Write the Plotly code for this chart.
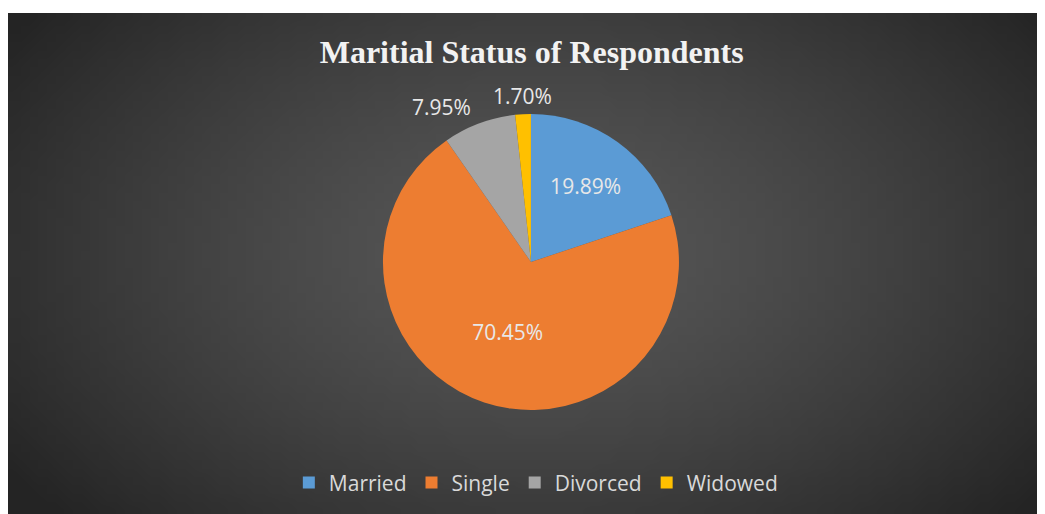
import base64
import math
import struct
import zlib

import plotly.graph_objects as go

# ---- data ----
categories = ["Married", "Single", "Divorced", "Widowed"]
respondents = [35, 124, 14, 3]          # 176 respondents in total
slice_colors = ["#5B9BD5", "#ED7D31", "#A5A5A5", "#FFC000"]
label_positions = ["inside", "inside", "none", "none"]
chart_title = "Maritial Status of Respondents"

# ---- geometry (figure is placed at an 8px page offset) ----
FIG_W, FIG_H = 1037, 506
M_L, M_R, M_T, M_B = 0, 0, 5, 0
PAPER_W = FIG_W - M_L - M_R
PAPER_H = FIG_H - M_T - M_B
CX, CY = 0.5043, 0.503          # pie centre, paper fractions
RADIUS_PX = 148


# ---- radial-gradient background, built as a tiny PNG ----
def gradient_png(w=120, h=60):
    rows = []
    for j in range(h):
        row = bytearray([0])
        for i in range(w):
            dx = (i + 0.5) / w - 0.51
            dy = (j + 0.5) / h - 0.48
            d = min(1.0, ((dx / 0.62) ** 2 + (dy / 0.78) ** 2) ** 0.5)
            v = int(round(0x57 - (0x57 - 0x24) * d ** 1.4))
            row += bytes([v, v, v])
        rows.append(bytes(row))
    raw = b"".join(rows)

    def chunk(tag, data):
        c = struct.pack(">I", len(data)) + tag + data
        return c + struct.pack(">I", zlib.crc32(tag + data) & 0xFFFFFFFF)

    png = b"\x89PNG\r\n\x1a\n"
    png += chunk(b"IHDR", struct.pack(">IIBBBBB", w, h, 8, 2, 0, 0, 0))
    png += chunk(b"IDAT", zlib.compress(raw, 9))
    png += chunk(b"IEND", b"")
    return "data:image/png;base64," + base64.b64encode(png).decode()


label_font = dict(family="Open Sans", size=21, color="#E8E8E8")
half_y = RADIUS_PX / PAPER_H

fig = go.Figure(
    go.Pie(
        labels=categories,
        values=respondents,
        sort=False,
        direction="clockwise",
        rotation=0,
        marker=dict(colors=slice_colors, line=dict(width=0)),
        texttemplate="%{percent:.2%}",
        textposition=label_positions,
        textfont=label_font,
        insidetextfont=label_font,
        domain=dict(x=[CX - 0.4, CX + 0.4], y=[CY - half_y, CY + half_y]),
        hoverinfo="label+percent",
        insidetextorientation="horizontal",
        automargin=False,
    )
)

# outside labels for the small slices, positioned from their mid-angles
total = sum(respondents)
annotations = []
cum = 0
for name, val, pos in zip(categories, respondents, label_positions):
    mid = (cum + val / 2) / total * 2 * math.pi   # clockwise from 12 o'clock
    cum += val
    if pos != "none":
        continue
    rr = RADIUS_PX * 1.12
    dx = rr * math.sin(mid)
    dy = rr * math.cos(mid)
    annotations.append(
        dict(
            text=f"{val / total:.2%}",
            x=CX + dx / PAPER_W, y=CY + dy / PAPER_H,
            xref="paper", yref="paper",
            xanchor="right" if math.sin(mid) < -0.2 else "center",
            yanchor="middle",
            showarrow=False,
            font=label_font,
        )
    )

fig.update_layout(
    width=FIG_W,
    height=FIG_H,
    margin=dict(l=M_L, r=M_R, t=M_T, b=M_B),
    paper_bgcolor="#FFFFFF",
    plot_bgcolor="rgba(0,0,0,0)",
    images=[
        dict(
            source=gradient_png(),
            xref="paper", yref="paper",
            x=0, y=1, sizex=1, sizey=1,
            xanchor="left", yanchor="top",
            sizing="stretch", layer="below",
        )
    ],
    annotations=annotations,
    title=dict(
        text="<b>" + chart_title + "</b>",
        x=0.505, xanchor="center",
        y=0.913, yanchor="middle",
        font=dict(family="Liberation Serif", size=32, color="#F2F2F2"),
    ),
    legend=dict(
        orientation="h",
        x=0.509, xanchor="center",
        y=0.062, yanchor="middle",
        font=dict(family="Open Sans", size=21, color="#D9D9D9"),
        bgcolor="rgba(0,0,0,0)",
        itemwidth=30,
        traceorder="normal",
    ),
)

fig.write_html("out.html")
